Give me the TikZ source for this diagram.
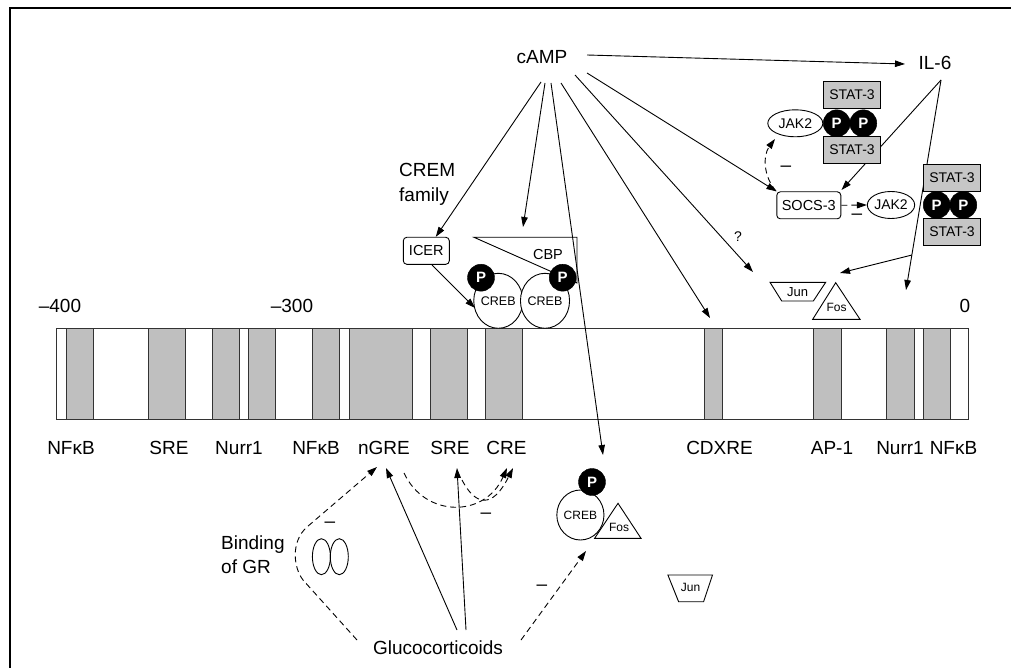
\documentclass[tikz,border=0pt]{standalone}
\usepackage{fontspec}
\setmainfont{Liberation Sans}
\usetikzlibrary{arrows.meta,shapes.geometric}
\begin{document}
\begin{tikzpicture}[x=1pt,y=-1pt,
  lbl/.style={font=\fontsize{19}{22}\selectfont, inner sep=0pt},
  arr/.style={-{Triangle[length=10pt,width=6.5pt]}, line width=0.9pt},
  darr/.style={arr, dash pattern=on 6pt off 4pt},
  pcirc/.style={circle, fill=black, draw=black, minimum size=27pt, inner sep=0pt, text=white, font=\bfseries\fontsize{15}{15}\selectfont},
  statbox/.style={draw, fill=gray!45, minimum width=57pt, minimum height=27pt, inner sep=0pt, font=\fontsize{14}{14}\selectfont, line width=0.9pt},
  ovalnode/.style={ellipse, draw, fill=white, inner sep=0pt, line width=0.9pt},
  rbox/.style={draw, fill=white, rounded corners=3.5pt, inner sep=0pt, line width=0.9pt},
  elem/.style={draw=black!80, fill=gray!50, line width=0.9pt},
  smalltxt/.style={font=\fontsize{13}{14}\selectfont, inner sep=0pt},
  minussign/.style={font=\fontsize{19}{19}\selectfont, inner sep=0pt},
  shapeline/.style={line width=0.9pt, fill=white}
]
\useasboundingbox (0,0) rectangle (1011,668);
% frame
\draw[line width=2.4pt] (10,668) -- (10,8) -- (1011,8);

% promoter bar
\draw[line width=1.1pt, draw=black!80, fill=white] (56.7,328.3) rectangle (968.3,419.3);
\foreach \a/\b in {66/93.3, 148.3/185, 212.3/239.3, 248.3/275.7, 312.7/339.3, 349/412.3, 430.7/467.3, 485.7/522.3, 704.3/722.7, 813.3/841, 886.7/914.3, 923.3/950}
  \draw[elem] (\a,328.3) rectangle (\b,419.3);
\draw[line width=1.1pt, draw=black!80] (56.7,328.3) rectangle (968.3,419.3);

% numbers
\node[lbl] (n400) at (60,306) {–400};
\node[lbl] (n300) at (292,306) {–300};
\node[lbl] (n0) at (965,306) {0};

% element labels
\node[lbl] (l1) at (71,448) {NFκB};
\node[lbl] (l2) at (169,448) {SRE};
\node[lbl] (l3) at (239,448) {Nurr1};
\node[lbl] (l4) at (316,448) {NFκB};
\node[lbl] (l5) at (384,448) {nGRE};
\node[lbl] (l6) at (450,448) {SRE};
\node[lbl] (l7) at (506.5,448) {CRE};
\node[lbl] (l8) at (719.5,448) {CDXRE};
\node[lbl] (l9) at (832,448) {AP-1};
\node[lbl] (l10) at (900,448) {Nurr1};
\node[lbl] (l11) at (953.5,448) {NFκB};

% top labels
\node[lbl] (camp) at (542,57) {cAMP};
\node[lbl] (il6) at (935,63) {IL-6};
\node[lbl, align=left, anchor=west, font=\fontsize{19}{25}\selectfont] (crem) at (399,184.5) {CREM\\family};

% IL-6 lines (behind boxes)
\coordinate (il6s) at (941,80);
\coordinate (il6end) at (906,290);
\coordinate (branch) at (912,255);
\coordinate (fosin) at (840,273);
\draw[arr] (il6s) -- (il6end);
\draw[arr] (branch) -- (fosin);

% ICER / CBP / CREB
\node[rbox, minimum width=46pt, minimum height=27pt, font=\fontsize{14.5}{15}\selectfont] (icer) at (426.3,250.8) {ICER};
\draw[shapeline] (474,237.3) -- (577,237.3) -- (577,283) -- cycle;
\node[font=\fontsize{14.5}{15}\selectfont, inner sep=0pt] (cbp) at (548,255) {CBP};
\node[ovalnode, minimum width=45pt, minimum height=55pt, font=\fontsize{12.5}{13}\selectfont] (creb1) at (498.3,300.8) {CREB};
\node[ovalnode, minimum width=44pt, minimum height=55pt, font=\fontsize{12.5}{13}\selectfont] (creb2) at (545,300.8) {CREB};
\node[pcirc] (p1) at (481,277.7) {P};
\node[pcirc] (p2) at (562.7,277.7) {P};

% IL-6 -> SOCS-3 line behind STAT box
\draw[arr] (il6s) -- (841.5,190);

% upper JAK/STAT complex
\node[statbox] (st1) at (852,95) {STAT-3};
\node[statbox] (st2) at (852,150) {STAT-3};
\node[ovalnode, minimum width=55pt, minimum height=27pt, font=\fontsize{14}{14}\selectfont] (jak2u) at (795.3,123.3) {JAK2};
\node[pcirc] (pu1) at (836.7,123.3) {P};
\node[pcirc] (pu2) at (863.3,123.3) {P};

% SOCS-3 and lower complex
\node[rbox, minimum width=64pt, minimum height=27pt, font=\fontsize{14.5}{15}\selectfont] (socs) at (808.8,205.3) {SOCS-3};
\node[ovalnode, minimum width=47pt, minimum height=27pt, font=\fontsize{14}{14}\selectfont] (jak2l) at (891,205) {JAK2};
\node[statbox] (st3) at (952,178) {STAT-3};
\node[statbox] (st4) at (952,232) {STAT-3};
\node[pcirc] (pl1) at (936.7,205) {P};
\node[pcirc] (pl2) at (963.3,205) {P};

\draw[darr] (776,191) .. controls (763,176) and (763,155) .. (775,139);
\node[minussign] (m1) at (786,169) {–};
\draw[darr] (socs.east) -- (jak2l.west);
\node[minussign] (m2) at (857,217) {–};

% Jun / Fos upper
\draw[shapeline] (770,282.3) -- (825.7,282.3) -- (813.3,301) -- (781.7,301) -- cycle;
\node[smalltxt] (jun1) at (797.7,292) {Jun};
\draw[shapeline] (835.7,282.7) -- (860,319.3) -- (812.7,319.3) -- cycle;
\node[font=\fontsize{12}{12}\selectfont, inner sep=0pt] (fos1) at (836.5,307.5) {Fos};
\node[font=\fontsize{14}{14}\selectfont, inner sep=0pt] (q) at (738,237) {?};

% cAMP arrows
\coordinate (cs1) at (541,82);
\coordinate (cs2) at (545,83);
\coordinate (cs3) at (551,83);
\coordinate (cs4) at (561,83);
\coordinate (cs5) at (575,75);
\coordinate (cs6) at (587,73);
\coordinate (cs7) at (587,55);
\coordinate (cbpin) at (523,227);
\coordinate (crebdown) at (603,455);
\coordinate (cdxin) at (710,318);
\coordinate (apin) at (753,272);
\coordinate (il6in) at (905,64);
\draw[arr] (cs7) -- (il6in);
\draw[arr] (cs1) -- (icer);
\draw[arr] (cs2) -- (cbpin);
\draw[arr] (cs3) -- (crebdown);
\draw[arr] (cs4) -- (cdxin);
\draw[arr] (cs5) -- (apin);
\draw[arr] (cs6) -- (socs.north west);
\coordinate (icerout) at (432,265);
\coordinate (crebin) at (475,308);
\draw[arr] (icerout) -- (crebin);

% lower part
\node[lbl] (gluco) at (438,648) {Glucocorticoids};
\node[lbl, align=left, anchor=west, font=\fontsize{19}{24}\selectfont] (bind) at (221,555) {Binding\\of GR};
\node[ovalnode, fill=none, minimum width=18pt, minimum height=36pt] (gr1) at (321.4,556.7) {};
\node[ovalnode, fill=none, minimum width=18pt, minimum height=36pt] (gr2) at (339.3,556.7) {};
\node[minussign] (m3) at (330,525) {–};
\node[minussign] (m4) at (486,516) {–};
\node[minussign] (m5) at (542,588) {–};

\node[ovalnode, minimum width=46pt, minimum height=50pt, font=\fontsize{12}{13}\selectfont] (crebl) at (580.4,515) {CREB};
\node[pcirc] (pll) at (592,482) {P};
\draw[shapeline] (618,503.3) -- (641,538.3) -- (594.6,538.3) -- cycle;
\node[font=\fontsize{12}{12}\selectfont, inner sep=0pt] (fos2) at (619,527) {Fos};
\draw[shapeline] (667.9,575) -- (712.5,575) -- (703.6,601.7) -- (678.6,601.7) -- cycle;
\node[font=\fontsize{12}{12}\selectfont, inner sep=0pt] (jun2) at (690.5,587.5) {Jun};

\coordinate (g1) at (357,640);
\coordinate (g2) at (457,630);
\coordinate (g3) at (466,630);
\coordinate (g4) at (521,640);
\coordinate (ngrein1) at (377,467);
\coordinate (ngrein2) at (386,468);
\coordinate (srein) at (457,468);
\coordinate (crein1) at (507,468);
\coordinate (crein2) at (513,468);
\coordinate (ngreout) at (404,473);
\coordinate (sreout) at (462,480);
\coordinate (crebin2) at (586,551);
\draw[darr] (g1) -- (303,580) .. controls (293,567) and (291,541) .. (307,527) -- (ngrein1);
\draw[arr] (g2) -- (ngrein2);
\draw[arr] (g3) -- (srein);
\draw[darr] (ngreout) .. controls (425,518) and (485,518) .. (crein1);
\draw[darr] (sreout) .. controls (475,505) and (492,510) .. (crein2);
\draw[darr] (g4) -- (crebin2);
\end{tikzpicture}
\end{document}
